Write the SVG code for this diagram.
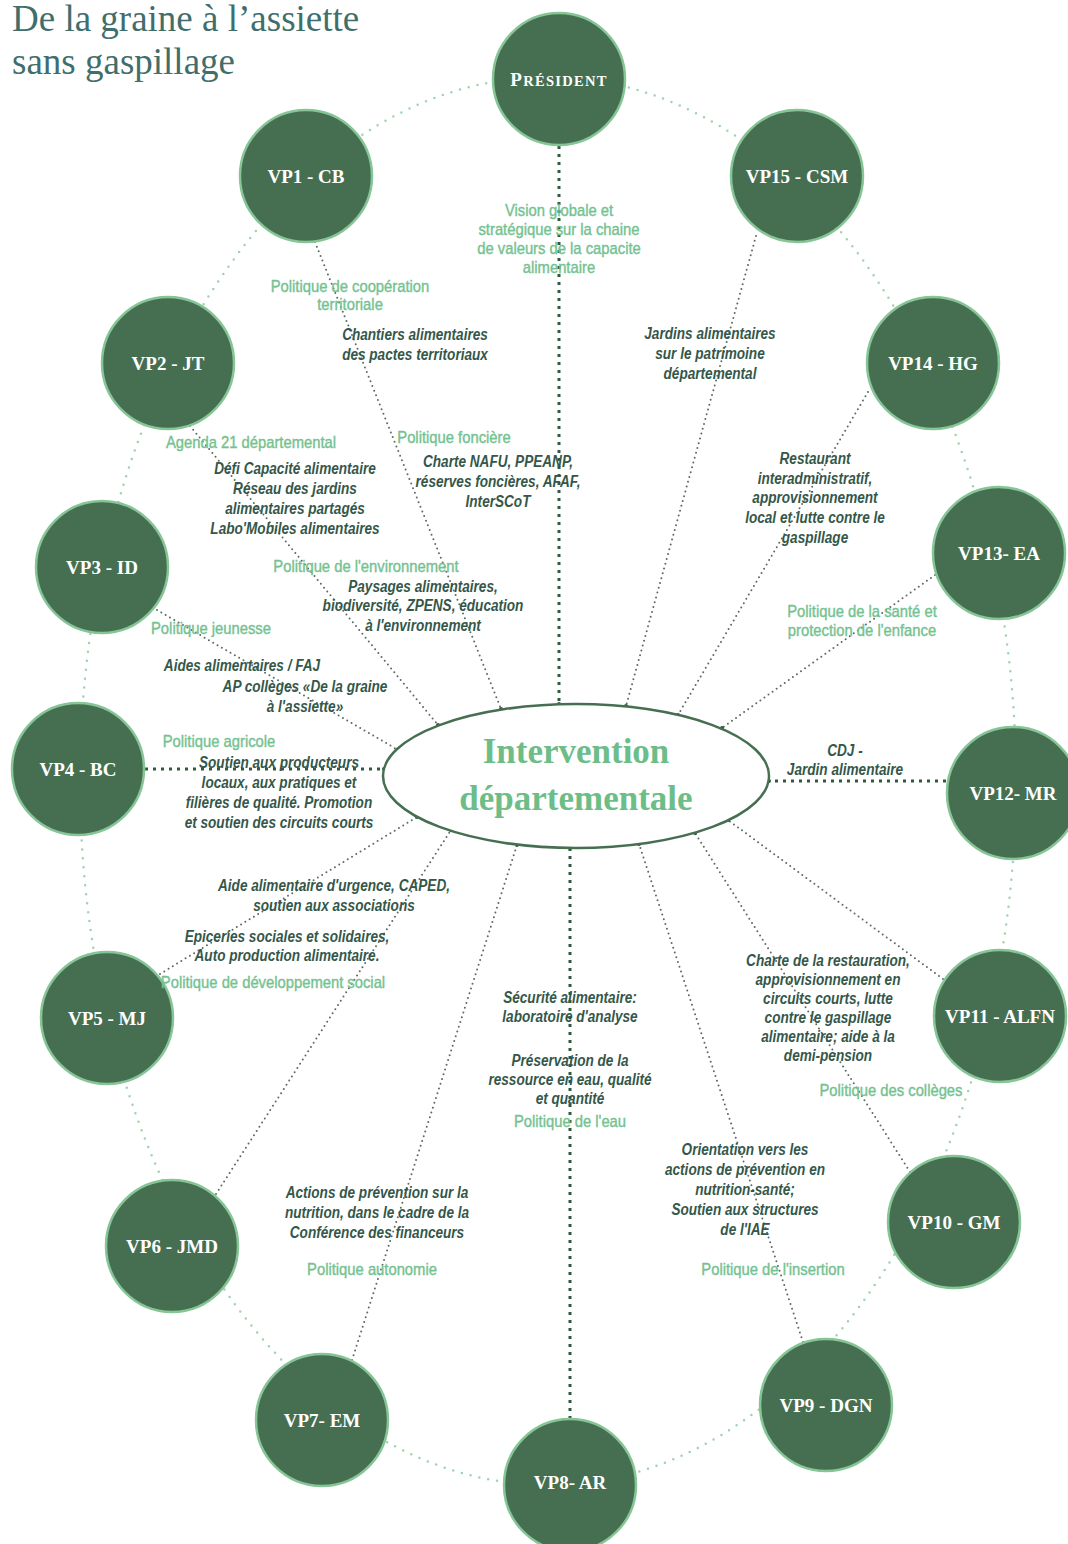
<svg xmlns="http://www.w3.org/2000/svg" width="1068" height="1544" viewBox="0 0 1068 1544">
<style>
.node{fill:#466f52;stroke:#86c596;stroke-width:2.5}
.lbl{font-family:"Liberation Serif",serif;font-weight:bold;font-size:19px;fill:#ffffff;text-anchor:middle}
.pol{font-family:"Liberation Sans",Arial,sans-serif;font-size:17px;fill:#74c290;stroke:#74c290;stroke-width:0.4;text-anchor:middle}
.desc{font-family:"Liberation Sans",Arial,sans-serif;font-size:17px;font-style:italic;font-weight:bold;fill:#34574a;text-anchor:middle}
.ring{fill:none;stroke:#9fd3ac;stroke-width:2.5;stroke-linecap:round;stroke-dasharray:0 9}
.thin{fill:none;stroke:#5b6b62;stroke-width:2;stroke-linecap:round;stroke-dasharray:0 5}
.heavy{fill:none;stroke:#2f5a3d;stroke-width:3;stroke-dasharray:3 5}
.title{font-family:"Liberation Serif",serif;font-size:37px;fill:#3f6e6c}
</style>
<defs>
<marker id="dot" viewBox="0 0 6 6" refX="3" refY="3" markerWidth="4" markerHeight="4" markerUnits="userSpaceOnUse"><circle cx="3" cy="3" r="3" fill="#2f5a3d"/></marker>
</defs>
<rect width="1068" height="1544" fill="#ffffff"/>

<g id="title">
<text class="title" x="12" y="31">De la graine à l’assiette</text>
<text class="title" x="12" y="74">sans gaspillage</text>
</g>

<g id="outer-ring">
<ellipse class="ring" cx="548" cy="781" rx="468" ry="704"/>
</g>

<g id="connectors">
<line class="heavy" x1="559" y1="146" x2="559" y2="704" marker-end="url(#dot)"/>
<line class="thin" x1="315" y1="242" x2="501" y2="709" marker-end="url(#dot)"/>
<line class="thin" x1="190" y1="426" x2="438" y2="725" marker-end="url(#dot)"/>
<line class="thin" x1="157" y1="610" x2="398" y2="750" marker-end="url(#dot)"/>
<line class="heavy" x1="145" y1="769" x2="384" y2="769" marker-end="url(#dot)"/>
<line class="thin" x1="160" y1="974" x2="417" y2="817" marker-end="url(#dot)"/>
<line class="thin" x1="216" y1="1194" x2="451" y2="830" marker-end="url(#dot)"/>
<line class="thin" x1="352" y1="1360" x2="517" y2="845" marker-end="url(#dot)"/>
<line class="heavy" x1="570" y1="1419" x2="570" y2="848" marker-end="url(#dot)"/>
<line class="thin" x1="803" y1="1342" x2="639" y2="844" marker-end="url(#dot)"/>
<line class="thin" x1="910" y1="1172" x2="695" y2="833" marker-end="url(#dot)"/>
<line class="thin" x1="943" y1="979" x2="728" y2="820" marker-end="url(#dot)"/>
<line class="heavy" x1="946" y1="781" x2="769" y2="781" marker-end="url(#dot)"/>
<line class="thin" x1="935" y1="575" x2="722" y2="728" marker-end="url(#dot)"/>
<line class="thin" x1="868" y1="392" x2="678" y2="715" marker-end="url(#dot)"/>
<line class="thin" x1="756" y1="236" x2="626" y2="706" marker-end="url(#dot)"/>
</g>

<g id="center">
<ellipse cx="576" cy="776" rx="193" ry="72" fill="#ffffff" stroke="#466f52" stroke-width="2.5"/>
<text x="576" y="763" font-family="Liberation Serif,serif" font-weight="bold" font-size="35" fill="#6dbd88" text-anchor="middle">Intervention</text>
<text x="576" y="810" font-family="Liberation Serif,serif" font-weight="bold" font-size="35" fill="#6dbd88" text-anchor="middle">départementale</text>
</g>

<g id="president"><circle class="node" cx="559" cy="79" r="66"/><text class="lbl" x="559" y="86" letter-spacing="1.3"><tspan font-size="19">P</tspan><tspan font-size="14.5">RÉSIDENT</tspan></text></g>
<g id="vp1"><circle class="node" cx="306" cy="176" r="66"/><text class="lbl" x="306" y="183">VP1 - CB</text></g>
<g id="vp15"><circle class="node" cx="797" cy="176" r="66"/><text class="lbl" x="797" y="183">VP15 - CSM</text></g>
<g id="vp2"><circle class="node" cx="168" cy="363" r="66"/><text class="lbl" x="168" y="370">VP2 - JT</text></g>
<g id="vp14"><circle class="node" cx="933" cy="363" r="66"/><text class="lbl" x="933" y="370">VP14 - HG</text></g>
<g id="vp3"><circle class="node" cx="102" cy="567" r="66"/><text class="lbl" x="102" y="574">VP3 - ID</text></g>
<g id="vp13"><circle class="node" cx="999" cy="553" r="66"/><text class="lbl" x="999" y="560">VP13- EA</text></g>
<g id="vp4"><circle class="node" cx="78" cy="769" r="66"/><text class="lbl" x="78" y="776">VP4 - BC</text></g>
<g id="vp12"><circle class="node" cx="1013" cy="793" r="66"/><text class="lbl" x="1013" y="800">VP12- MR</text></g>
<g id="vp5"><circle class="node" cx="107" cy="1018" r="66"/><text class="lbl" x="107" y="1025">VP5 - MJ</text></g>
<g id="vp11"><circle class="node" cx="1000" cy="1016" r="66"/><text class="lbl" x="1000" y="1023">VP11 - ALFN</text></g>
<g id="vp6"><circle class="node" cx="172" cy="1246" r="66"/><text class="lbl" x="172" y="1253">VP6 - JMD</text></g>
<g id="vp10"><circle class="node" cx="954" cy="1222" r="66"/><text class="lbl" x="954" y="1229">VP10 - GM</text></g>
<g id="vp7"><circle class="node" cx="322" cy="1420" r="66"/><text class="lbl" x="322" y="1427">VP7- EM</text></g>
<g id="vp9"><circle class="node" cx="826" cy="1405" r="66"/><text class="lbl" x="826" y="1412">VP9 - DGN</text></g>
<g id="vp8"><circle class="node" cx="570" cy="1485" r="66"/><text class="lbl" x="570" y="1489">VP8- AR</text></g>

<g id="labels">
<text class="pol" transform="matrix(0.87 0 0 1 72.67 0)"><tspan x="559" y="216">Vision globale et</tspan><tspan x="559" y="235">stratégique sur la chaine</tspan><tspan x="559" y="254">de valeurs de la capacite</tspan><tspan x="559" y="273">alimentaire</tspan></text>

<text class="pol" transform="matrix(0.87 0 0 1 45.5 0)"><tspan x="350" y="292">Politique de coopération</tspan><tspan x="350" y="310">territoriale</tspan></text>
<text class="desc" transform="matrix(0.8 0 0 1 83 0)"><tspan x="415" y="340">Chantiers alimentaires</tspan><tspan x="415" y="360">des pactes territoriaux</tspan></text>

<text class="pol" transform="matrix(0.87 0 0 1 32.63 0)" x="251" y="448">Agenda 21 départemental</text>
<text class="desc" transform="matrix(0.8 0 0 1 59 0)"><tspan x="295" y="474">Défi Capacité alimentaire</tspan><tspan x="295" y="494">Réseau des jardins</tspan><tspan x="295" y="514">alimentaires partagés</tspan><tspan x="295" y="534">Labo'Mobiles alimentaires</tspan></text>

<text class="pol" transform="matrix(0.87 0 0 1 59.02 0)" x="454" y="443">Politique foncière</text>
<text class="desc" transform="matrix(0.8 0 0 1 99.6 0)"><tspan x="498" y="467">Charte NAFU, PPEANP,</tspan><tspan x="498" y="487">réserves foncières, AFAF,</tspan><tspan x="498" y="507">InterSCoT</tspan></text>

<text class="desc" transform="matrix(0.8 0 0 1 142 0)"><tspan x="710" y="339">Jardins alimentaires</tspan><tspan x="710" y="359">sur le patrimoine</tspan><tspan x="710" y="379">départemental</tspan></text>

<text class="desc" transform="matrix(0.8 0 0 1 163 0)"><tspan x="815" y="464">Restaurant</tspan><tspan x="815" y="484">interadministratif,</tspan><tspan x="815" y="503">approvisionnement</tspan><tspan x="815" y="523">local et lutte contre le</tspan><tspan x="815" y="543">gaspillage</tspan></text>

<text class="pol" transform="matrix(0.87 0 0 1 112.06 0)"><tspan x="862" y="617">Politique de la santé et</tspan><tspan x="862" y="636">protection de l'enfance</tspan></text>

<text class="pol" transform="matrix(0.87 0 0 1 47.58 0)" x="366" y="572">Politique de l'environnement</text>
<text class="desc" transform="matrix(0.8 0 0 1 84.6 0)"><tspan x="423" y="592">Paysages alimentaires,</tspan><tspan x="423" y="611">biodiversité, ZPENS, éducation</tspan><tspan x="423" y="631">à l'environnement</tspan></text>

<text class="pol" transform="matrix(0.87 0 0 1 27.43 0)" x="211" y="634">Politique jeunesse</text>
<text class="desc" transform="matrix(0.8 0 0 1 48.4 0)" x="242" y="671">Aides alimentaires / FAJ</text>
<text class="desc" transform="matrix(0.8 0 0 1 61 0)"><tspan x="305" y="692">AP collèges «De la graine</tspan><tspan x="305" y="712">à l'assiette»</tspan></text>

<text class="pol" transform="matrix(0.87 0 0 1 28.47 0)" x="219" y="747">Politique agricole</text>
<text class="desc" transform="matrix(0.8 0 0 1 55.8 0)"><tspan x="279" y="768">Soutien aux producteurs</tspan><tspan x="279" y="788">locaux, aux pratiques et</tspan><tspan x="279" y="808">filières de qualité. Promotion</tspan><tspan x="279" y="828">et soutien des circuits courts</tspan></text>

<text class="desc" transform="matrix(0.8 0 0 1 169 0)"><tspan x="845" y="756">CDJ -</tspan><tspan x="845" y="775">Jardin alimentaire</tspan></text>

<text class="desc" transform="matrix(0.8 0 0 1 66.8 0)"><tspan x="334" y="891">Aide alimentaire d'urgence, CAPED,</tspan><tspan x="334" y="911">soutien aux associations</tspan></text>
<text class="desc" transform="matrix(0.8 0 0 1 57.4 0)"><tspan x="287" y="942">Epiceries sociales et solidaires,</tspan><tspan x="287" y="961">Auto production alimentaire.</tspan></text>
<text class="pol" transform="matrix(0.87 0 0 1 35.49 0)" x="273" y="988">Politique de développement social</text>

<text class="desc" transform="matrix(0.8 0 0 1 114 0)"><tspan x="570" y="1003">Sécurité alimentaire:</tspan><tspan x="570" y="1022">laboratoire d'analyse</tspan></text>
<text class="desc" transform="matrix(0.8 0 0 1 114 0)"><tspan x="570" y="1066">Préservation de la</tspan><tspan x="570" y="1085">ressource en eau, qualité</tspan><tspan x="570" y="1104">et quantité</tspan></text>
<text class="pol" transform="matrix(0.87 0 0 1 74.1 0)" x="570" y="1127">Politique de l'eau</text>

<text class="desc" transform="matrix(0.8 0 0 1 165.6 0)"><tspan x="828" y="966">Charte de la restauration,</tspan><tspan x="828" y="985">approvisionnement en</tspan><tspan x="828" y="1004">circuits courts, lutte</tspan><tspan x="828" y="1023">contre le gaspillage</tspan><tspan x="828" y="1042">alimentaire; aide à la</tspan><tspan x="828" y="1061">demi-pension</tspan></text>
<text class="pol" transform="matrix(0.87 0 0 1 115.83 0)" x="891" y="1096">Politique des collèges</text>

<text class="desc" transform="matrix(0.8 0 0 1 75.4 0)"><tspan x="377" y="1198">Actions de prévention sur la</tspan><tspan x="377" y="1218">nutrition, dans le cadre de la</tspan><tspan x="377" y="1238">Conférence des financeurs</tspan></text>
<text class="pol" transform="matrix(0.87 0 0 1 48.36 0)" x="372" y="1275">Politique autonomie</text>

<text class="desc" transform="matrix(0.8 0 0 1 149 0)"><tspan x="745" y="1155">Orientation vers les</tspan><tspan x="745" y="1175">actions de prévention en</tspan><tspan x="745" y="1195">nutrition-santé;</tspan><tspan x="745" y="1215">Soutien aux structures</tspan><tspan x="745" y="1235">de l'IAE</tspan></text>
<text class="pol" transform="matrix(0.87 0 0 1 100.49 0)" x="773" y="1275">Politique de l'insertion</text>
</g>
</svg>
